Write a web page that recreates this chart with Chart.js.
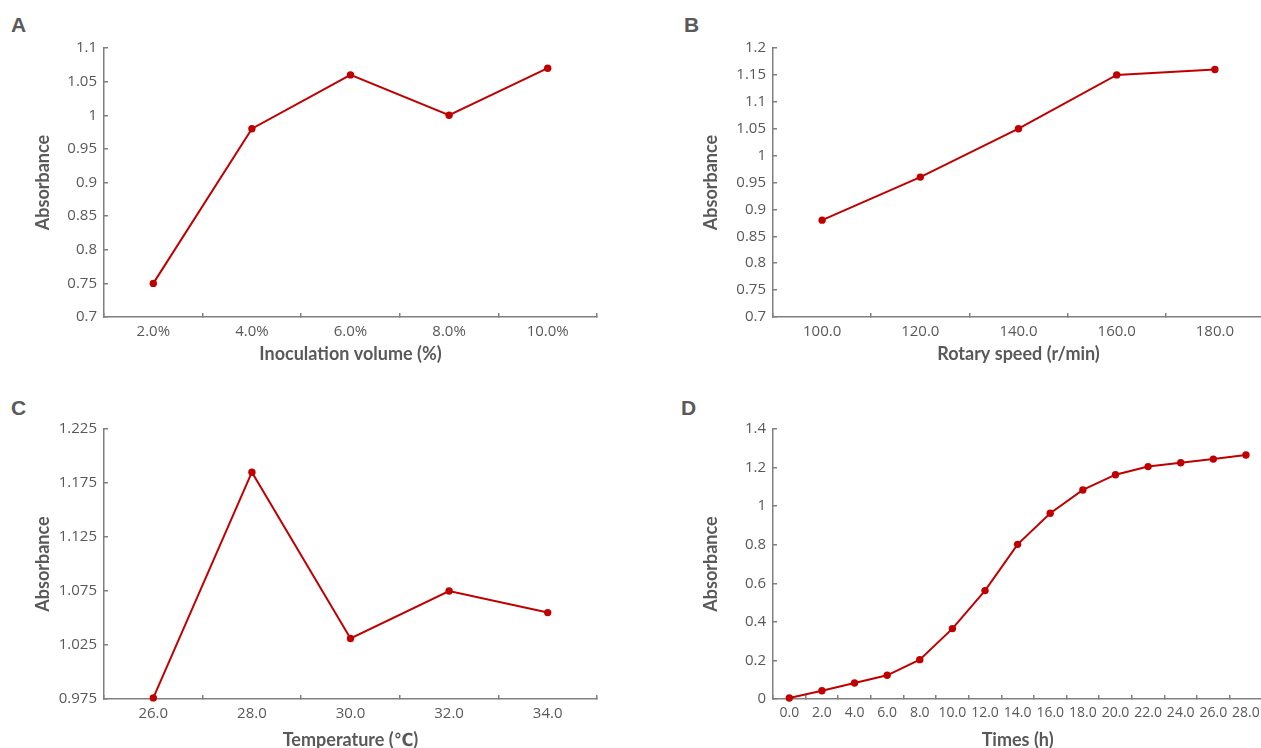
<!DOCTYPE html>
<html>
<head>
<meta charset="utf-8">
<script src="https://cdn.jsdelivr.net/npm/chart.js@4.4.0/dist/chart.umd.min.js"></script>
<style>
  html, body { margin: 0; padding: 0; background: #fff; overflow: hidden; }
  body { width: 1261px; height: 748px; position: relative; }
  canvas { position: absolute; }
  .tag { position: absolute; font: bold 21px "Liberation Sans", Arial, sans-serif; color: #595959; line-height: 21px; }
</style>
</head>
<body>
<div class="tag" style="left:11px;top:14px">A</div>
<div class="tag" style="left:684px;top:14px">B</div>
<div class="tag" style="left:11px;top:397px">C</div>
<div class="tag" style="left:681px;top:397px">D</div>

<canvas id="chartA" width="620" height="390" style="left:0;top:0"></canvas>
<canvas id="chartB" width="630" height="390" style="left:640px;top:0"></canvas>
<canvas id="chartC" width="620" height="358" style="left:0;top:390px"></canvas>
<canvas id="chartD" width="630" height="358" style="left:640px;top:390px"></canvas>

<script>
// data
const inoculationLabels = ["2.0%", "4.0%", "6.0%", "8.0%", "10.0%"]
const inoculationValues = [0.75, 0.98, 1.06, 1.0, 1.07]

const speedLabels = ["100.0", "120.0", "140.0", "160.0", "180.0"]
const speedValues = [0.88, 0.96, 1.05, 1.15, 1.16]

const tempLabels = ["26.0", "28.0", "30.0", "32.0", "34.0"]
const tempValues = [0.976, 1.185, 1.031, 1.075, 1.055]

const timeLabels = ["0.0", "2.0", "4.0", "6.0", "8.0", "10.0", "12.0", "14.0", "16.0", "18.0", "20.0", "22.0", "24.0", "26.0", "28.0"]
const timeValues = [0.005, 0.043, 0.083, 0.123, 0.204, 0.365, 0.562, 0.802, 0.963, 1.084, 1.163, 1.205, 1.225, 1.244, 1.265]

const RED = "#C00000"
const AXIS = "#808080"
const TEXT = "#595959"
const tickFont = { family: "'Open Sans', sans-serif", size: 15 }
const titleFont = { family: "Lato, 'DejaVu Sans Condensed', sans-serif", size: 18, weight: "bold", lineHeight: 1 }

function makePanel(id, labels, values, y, xTitle, box) {
  const ctx = document.getElementById(id).getContext("2d")
  return new Chart(ctx, {
    type: "line",
    data: {
      labels: labels,
      datasets: [{
        data: values,
        borderColor: RED,
        backgroundColor: RED,
        borderWidth: 2,
        pointRadius: 3.7,
        pointBorderWidth: 0,
        tension: 0,
        clip: false,
      }],
    },
    options: {
      responsive: false,
      devicePixelRatio: 1,
      animation: false,
      layout: { padding: { top: box.padTop, right: box.padRight, left: 0, bottom: 0 } },
      plugins: { legend: { display: false }, tooltip: { enabled: false } },
      scales: {
        x: {
          offset: true,
          grid: { offset: true, drawOnChartArea: false, tickLength: -4, color: AXIS, lineWidth: 1.5 },
          border: { display: true, color: AXIS, width: 1.5 },
          ticks: { color: TEXT, font: { ...tickFont, size: box.xTickSize || 15 }, padding: 10, autoSkip: false, maxRotation: 0 },
          title: { display: true, text: xTitle, color: TEXT, font: titleFont, padding: { top: 0, bottom: box.xTitlePad } },
          afterFit: (s) => { s.height = box.xHeight },
        },
        y: {
          min: y.min,
          max: y.max,
          grid: { drawOnChartArea: false, tickLength: -4, color: AXIS, lineWidth: 1.5 },
          border: { display: true, color: AXIS, width: 1.5 },
          ticks: {
            stepSize: y.step,
            color: TEXT,
            font: tickFont,
            padding: 11,
            callback: (v) => String(+v.toFixed(3)),
          },
          title: { display: true, text: "Absorbance", color: TEXT, font: titleFont, padding: { top: box.yTitlePad, bottom: 0 } },
          afterFit: (s) => { s.width = box.yWidth },
        },
      },
    },
  })
}

makePanel("chartA", inoculationLabels, inoculationValues, { min: 0.7, max: 1.1, step: 0.05 }, "Inoculation volume (%)",
  { padTop: 48, padRight: 23, yWidth: 104, xHeight: 73, xTitlePad: 27, yTitlePad: 34 })

makePanel("chartB", speedLabels, speedValues, { min: 0.7, max: 1.2, step: 0.05 }, "Rotary speed (r/min)",
  { padTop: 48, padRight: 6, yWidth: 133, xHeight: 73, xTitlePad: 27, yTitlePad: 62 })

makePanel("chartC", tempLabels, tempValues, { min: 0.975, max: 1.225, step: 0.05 }, "Temperature (℃)",
  { padTop: 39, padRight: 23, yWidth: 104, xHeight: 49, xTitlePad: -1, yTitlePad: 34 })

makePanel("chartD", timeLabels, timeValues, { min: 0, max: 1.4, step: 0.2 }, "Times (h)",
  { padTop: 39, padRight: 6, yWidth: 133, xHeight: 49, xTitlePad: -1, yTitlePad: 62, xTickSize: 14 })
</script>
</body>
</html>
